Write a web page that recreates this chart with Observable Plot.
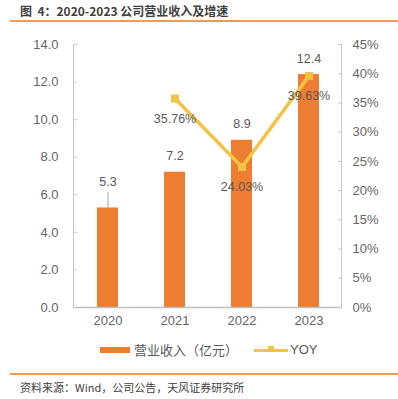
<!DOCTYPE html>
<html><head><meta charset="utf-8">
<script src="https://cdn.jsdelivr.net/npm/d3@7"></script>
<script src="https://cdn.jsdelivr.net/npm/@observablehq/plot@0.6"></script>
<style>
body{margin:0;background:#fff;}
#wrap{position:relative;width:398px;height:399px;overflow:hidden;font-family:"Noto Sans CJK SC","Noto Sans",sans-serif;}
.title{position:absolute;left:20px;top:3px;font-size:12px;line-height:16px;font-weight:bold;color:#404040;white-space:nowrap;}
.hr{position:absolute;left:10px;right:0;height:2px;background:#F39A4F;}
#chart{position:absolute;left:0;top:30px;}
.lg{position:absolute;white-space:nowrap;font-size:13px;line-height:16px;color:#595959;}
.foot{position:absolute;left:20px;top:379px;font-size:11px;line-height:16px;color:#404040;white-space:nowrap;}
</style></head><body>
<div id="wrap">
  <div class="title">图&nbsp;&nbsp;4：2020-2023 公司营业收入及增速</div>
  <div class="hr" style="top:20px"></div>
  <div id="chart"></div>
  <div class="lg" style="left:100px;top:347px;width:30px;height:6px;background:#ED7D31"></div>
  <div class="lg" style="left:134px;top:342px;">营业收入（亿元）</div>
  <div class="lg" style="left:254px;top:349px;width:34px;height:3px;background:#F5C344"></div>
  <div class="lg" style="left:268px;top:346px;width:6px;height:6px;background:#F5C344"></div>
  <div class="lg" style="left:290px;top:342px;font-family:'Liberation Sans',Arial,sans-serif;">YOY</div>
  <div class="hr" style="top:373px"></div>
  <div class="foot">资料来源：Wind，公司公告，天风证券研究所</div>
</div>
<script>
const years = ["2020", "2021", "2022", "2023"];
const revenue = [5.3, 7.2, 8.9, 12.4];
const yoyYears = ["2021", "2022", "2023"];
const yoy = [35.76, 24.03, 39.63];
const leftTicks = [0, 2, 4, 6, 8, 10, 12, 14];
const rightTicks = [0, 5, 10, 15, 20, 25, 30, 35, 40, 45];

const LMAX = 14, RMAX = 45;
const toLeft = p => p * LMAX / RMAX;

const revData = years.map((y, i) => ({year: y, value: revenue[i]}));
const yoyData = yoyYears.map((y, i) => ({year: y, value: yoy[i]}));

const gray = "#595959";
const axisColor = "#C8C8C8";

const axisLines = (index, scales, values, dims) => {
  const {y} = scales;
  const {width, marginLeft, marginRight} = dims;
  const g = d3.create("svg:g").attr("stroke", axisColor).attr("stroke-width", 1);
  g.append("line").attr("x1", marginLeft + 0.5).attr("x2", marginLeft + 0.5).attr("y1", y(LMAX)).attr("y2", y(0));
  g.append("line").attr("x1", width - marginRight - 0.5).attr("x2", width - marginRight - 0.5).attr("y1", y(LMAX)).attr("y2", y(0));
  return g.node();
};

const chart = Plot.plot({
  width: 398,
  height: 300,
  marginTop: 14,
  marginBottom: 23,
  marginLeft: 73,
  marginRight: 56,
  style: {fontFamily: "'Liberation Sans', Arial, sans-serif", fontSize: "13px", color: "#666666", background: "transparent"},
  x: {domain: years, paddingInner: 0.69, paddingOuter: 0.345, label: null},
  y: {domain: [0, LMAX], label: null},
  marks: [
    Plot.barY(revData, {x: "year", y: "value", fill: "#ED7D31"}),
    Plot.ruleY([0], {stroke: "#BFBFBF", strokeWidth: 1.5}),
    axisLines,
    Plot.tickY(leftTicks, {y: d => d, insetRight: 265, stroke: axisColor}),
    Plot.tickY(rightTicks, {y: d => toLeft(d), insetLeft: 265, stroke: axisColor}),
    Plot.axisY({anchor: "left", ticks: leftTicks, tickSize: 0, tickPadding: 15, tickFormat: d => d.toFixed(1), label: null}),
    Plot.axisY({anchor: "right", ticks: rightTicks.map(toLeft), tickSize: 0, tickPadding: 10, tickFormat: d => Math.round(d * RMAX / LMAX) + "%", label: null}),
    Plot.axisX({tickSize: 0, tickPadding: 8, label: null}),
    Plot.ruleX(revData.filter(d => d.year === "2020"), {x: "year", y1: "value", y2: d => d.value + 0.8, stroke: "#A6A6A6"}),
    Plot.line(yoyData, {x: "year", y: d => toLeft(d.value), stroke: "#F5C344", strokeWidth: 3.5}),
    Plot.dot(yoyData, {x: "year", y: d => toLeft(d.value), symbol: "square", r: 4.5, fill: "#F5C344", stroke: null}),
    Plot.text(revData.filter(d => d.year !== "2020"), {x: "year", y: "value", text: d => d.value.toFixed(1), fill: gray, fontSize: 12.5, dy: -16}),
    Plot.text(revData.filter(d => d.year === "2020"), {x: "year", y: "value", text: d => d.value.toFixed(1), fill: gray, fontSize: 12.5, dy: -26}),
    Plot.text(yoyData, {x: "year", y: d => toLeft(d.value), text: d => d.value.toFixed(2) + "%", fill: gray, fontSize: 12.5, dy: 20})
  ]
});
document.getElementById("chart").appendChild(chart);
</script>
</body></html>
